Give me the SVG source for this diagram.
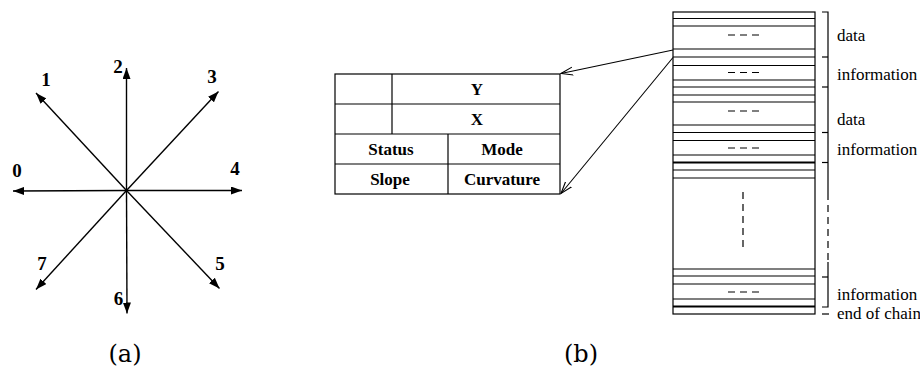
<svg xmlns="http://www.w3.org/2000/svg" width="920" height="370" viewBox="0 0 920 370">
<style>
.ax{stroke:#000;stroke-width:1.4;fill:none;marker-end:url(#fa)}
.dg{font-family:"Liberation Serif",serif;font-weight:bold;font-size:19px;text-anchor:middle;fill:#000}
.tb{font-family:"Liberation Serif",serif;font-weight:bold;font-size:17px;text-anchor:middle;fill:#000}
.lb{font-family:"Liberation Serif",serif;font-size:17px;fill:#000}
.cap{font-family:"DejaVu Serif",serif;font-size:24px;text-anchor:middle;fill:#000}
.ln{stroke:#000;stroke-width:1.2;fill:none}
.thk{stroke:#000;stroke-width:2;fill:none}
.ds{stroke:#000;stroke-width:1.2;stroke-dasharray:7 5;fill:none}
.cn{stroke:#000;stroke-width:1.1;fill:none;marker-end:url(#oa)}
</style>
<defs>
<marker id="fa" markerUnits="userSpaceOnUse" markerWidth="11" markerHeight="8" refX="11" refY="4" orient="auto"><path d="M0,0 L11,4 L0,8 z" fill="#000"/></marker>
<marker id="oa" markerUnits="userSpaceOnUse" markerWidth="13" markerHeight="10" refX="12" refY="5" orient="auto"><path d="M0,1 L12,5 L0,9" fill="none" stroke="#000" stroke-width="1.1"/></marker>
</defs>
<rect width="920" height="370" fill="#fff"/>

<g id="compass">
<line class="ax" x1="126.5" y1="190.5" x2="13" y2="191"/>
<line class="ax" x1="126.5" y1="190.5" x2="36" y2="93"/>
<line class="ax" x1="126.5" y1="190.5" x2="126.5" y2="68"/>
<line class="ax" x1="126.5" y1="190.5" x2="218.5" y2="91.5"/>
<line class="ax" x1="126.5" y1="190.5" x2="242" y2="190.5"/>
<line class="ax" x1="126.5" y1="190.5" x2="219.5" y2="288.5"/>
<line class="ax" x1="126.5" y1="190.5" x2="127" y2="313.5"/>
<line class="ax" x1="126.5" y1="190.5" x2="36" y2="289.5"/>
<text class="dg" x="17" y="177">0</text>
<text class="dg" x="46" y="86">1</text>
<text class="dg" x="118" y="73">2</text>
<text class="dg" x="212" y="83">3</text>
<text class="dg" x="235" y="175">4</text>
<text class="dg" x="220" y="270">5</text>
<text class="dg" x="118.5" y="305">6</text>
<text class="dg" x="42" y="270">7</text>
</g>

<g id="record">
<rect class="ln" x="335" y="74" width="225" height="120"/>
<line class="ln" x1="335" y1="104" x2="560" y2="104"/>
<line class="ln" x1="335" y1="134" x2="560" y2="134"/>
<line class="ln" x1="335" y1="164" x2="560" y2="164"/>
<line class="ln" x1="392" y1="74" x2="392" y2="134"/>
<line class="ln" x1="448" y1="134" x2="448" y2="194"/>
<text class="tb" x="477" y="95">Y</text>
<text class="tb" x="477" y="125">X</text>
<text class="tb" x="391" y="155">Status</text>
<text class="tb" x="502" y="155">Mode</text>
<text class="tb" x="390" y="185">Slope</text>
<text class="tb" x="502" y="185">Curvature</text>
</g>

<g id="chain">
<rect class="ln" x="673" y="12" width="142" height="302"/>
<g class="ln">
<line x1="673" y1="18.5" x2="815" y2="18.5"/>
<line x1="673" y1="26" x2="815" y2="26"/>
<line x1="673" y1="49" x2="815" y2="49"/>
<line x1="673" y1="57" x2="815" y2="57"/>
<line x1="673" y1="65.5" x2="815" y2="65.5"/>
<line x1="673" y1="80" x2="815" y2="80"/>
<line x1="673" y1="87" x2="815" y2="87"/>
<line x1="673" y1="95" x2="815" y2="95"/>
<line x1="673" y1="102" x2="815" y2="102"/>
<line x1="673" y1="125" x2="815" y2="125"/>
<line x1="673" y1="132.5" x2="815" y2="132.5"/>
<line x1="673" y1="140.5" x2="815" y2="140.5"/>
<line x1="673" y1="155" x2="815" y2="155"/>
<line x1="673" y1="170" x2="815" y2="170"/>
<line x1="673" y1="178" x2="815" y2="178"/>
<line x1="673" y1="269" x2="815" y2="269"/>
<line x1="673" y1="276" x2="815" y2="276"/>
<line x1="673" y1="284" x2="815" y2="284"/>
<line x1="673" y1="299" x2="815" y2="299"/>
</g>
<line class="thk" x1="673" y1="162.5" x2="815" y2="162.5"/>
<line class="thk" x1="673" y1="306.5" x2="815" y2="306.5"/>
<g class="ds">
<line x1="728" y1="35" x2="759" y2="35"/>
<line x1="728" y1="72.5" x2="759" y2="72.5"/>
<line x1="728" y1="111" x2="759" y2="111"/>
<line x1="728" y1="148" x2="759" y2="148"/>
<line x1="728" y1="292" x2="759" y2="292"/>
<line x1="743" y1="192" x2="743" y2="248"/>
</g>
</g>

<g id="bracket">
<path class="ln" d="M822,12 H828 V193 M828,262 V307 H822"/>
<line class="ds" x1="828" y1="193" x2="828" y2="262"/>
<g class="ln">
<line x1="822" y1="57" x2="828" y2="57"/>
<line x1="822" y1="87" x2="828" y2="87"/>
<line x1="822" y1="132.5" x2="828" y2="132.5"/>
<line x1="822" y1="162.5" x2="828" y2="162.5"/>
<line x1="822" y1="277" x2="828" y2="277"/>
<line x1="822" y1="314" x2="829" y2="314"/>
</g>
<text class="lb" x="837" y="41">data</text>
<text class="lb" x="837" y="80">information</text>
<text class="lb" x="837" y="125">data</text>
<text class="lb" x="837" y="155">information</text>
<text class="lb" x="837" y="300">information</text>
<text class="lb" x="837" y="319">end of chain</text>
</g>

<g id="connectors">
<line class="cn" x1="673" y1="50" x2="561" y2="73.5"/>
<line class="cn" x1="673" y1="57.5" x2="561" y2="193.5"/>
</g>

<text class="cap" x="125" y="362">(a)</text>
<text class="cap" x="581" y="362">(b)</text>
</svg>
